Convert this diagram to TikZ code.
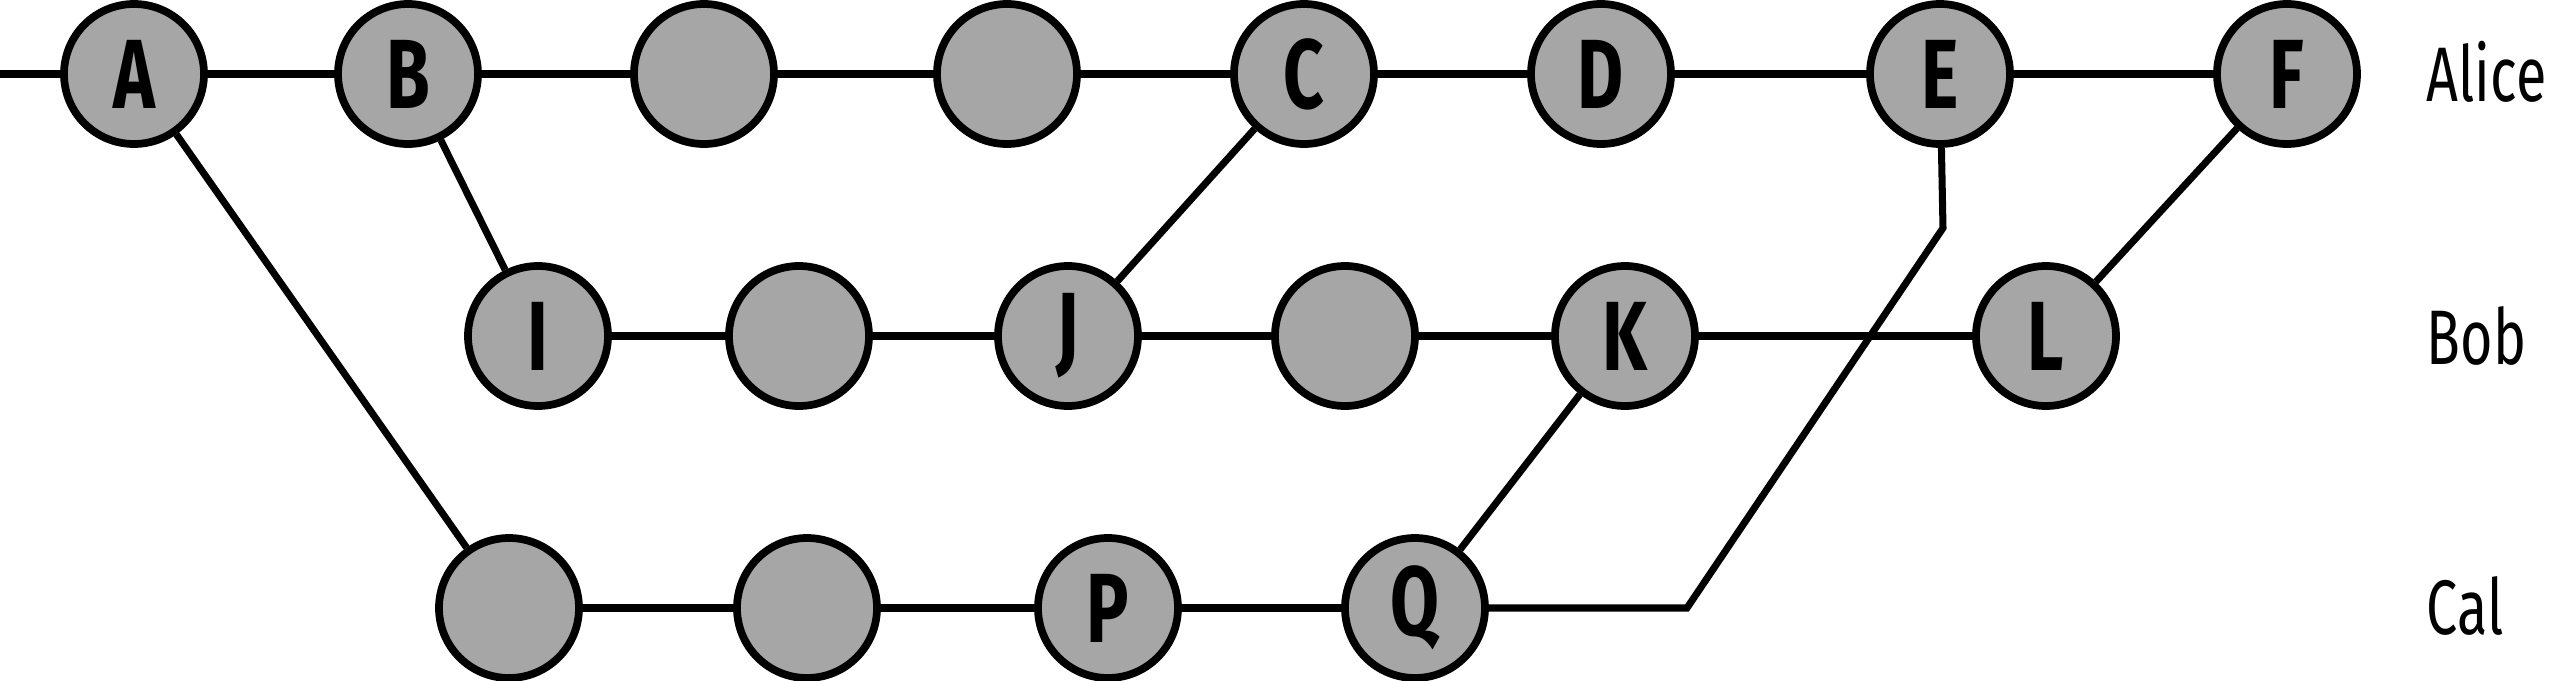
\documentclass[tikz,border=0pt]{standalone}
\usepackage{fontspec}
\setmainfont{Fira Sans}[FakeStretch=0.72]
\usepackage{tikz}
\definecolor{commitgray}{RGB}{166, 166, 166}

\begin{document}
\begin{tikzpicture}[
    commit/.style = {circle, draw = black, fill = commitgray, line width = 2.2pt,
                     minimum size = 1.40cm, inner sep = 0pt,
                     font = \fontsize{28}{30}\selectfont\bfseries},
    branch/.style = {anchor = west, inner sep = 0pt, font = \fontsize{22}{24}\selectfont},
    edge/.style = {line width = 2pt}
]
    \useasboundingbox (0,0) rectangle (25.56,-6.81);

    % Alice
    \node[commit] (A) at (1.34,-0.74) {A};
    \node[commit] (B) at (4.08,-0.74) {B};
    \node[commit] (a1) at (7.04,-0.74) {};
    \node[commit] (a2) at (10.07,-0.74) {};
    \node[commit] (C) at (13.04,-0.74) {C};
    \node[commit] (D) at (16.01,-0.74) {D};
    \node[commit] (E) at (19.40,-0.74) {E};
    \node[commit] (F) at (22.87,-0.74) {F};

    % Bob
    \node[commit] (I) at (5.38,-3.36) {I};
    \node[commit] (b1) at (7.99,-3.36) {};
    \node[commit] (J) at (10.68,-3.36) {J};
    \node[commit] (b2) at (13.45,-3.36) {};
    \node[commit] (K) at (16.25,-3.36) {K};
    \node[commit] (L) at (20.46,-3.36) {L};

    % Cal
    \node[commit] (c1) at (5.09,-6.08) {};
    \node[commit] (c2) at (8.07,-6.08) {};
    \node[commit] (P) at (11.08,-6.08) {P};
    \node[commit] (Q) at (14.15,-6.08) {Q};

    \node[branch] (alice) at (24.26,-0.72) {Alice};
    \node[branch] (bob) at (24.26,-3.36) {Bob};
    \node[branch] (cal) at (24.26,-6.06) {Cal};

    \coordinate (start) at (0,-0.74);
    \coordinate (bend1) at (16.87,-6.08);
    \coordinate (bend2) at (19.43,-2.28);

    % history lines
    \draw[edge] (start) -- (A) -- (B) -- (a1) -- (a2) -- (C) -- (D) -- (E) -- (F);
    \draw[edge] (I) -- (b1) -- (J) -- (b2) -- (K) -- (L);
    \draw[edge] (c1) -- (c2) -- (P) -- (Q);

    % merges
    \draw[edge] (A) -- (c1);
    \draw[edge] (B) -- (I);
    \draw[edge] (J) -- (C);
    \draw[edge] (Q) -- (K);
    \draw[edge] (L) -- (F);
    \draw[edge] (Q) -- (bend1) -- (bend2) -- (E);
\end{tikzpicture}
\end{document}
